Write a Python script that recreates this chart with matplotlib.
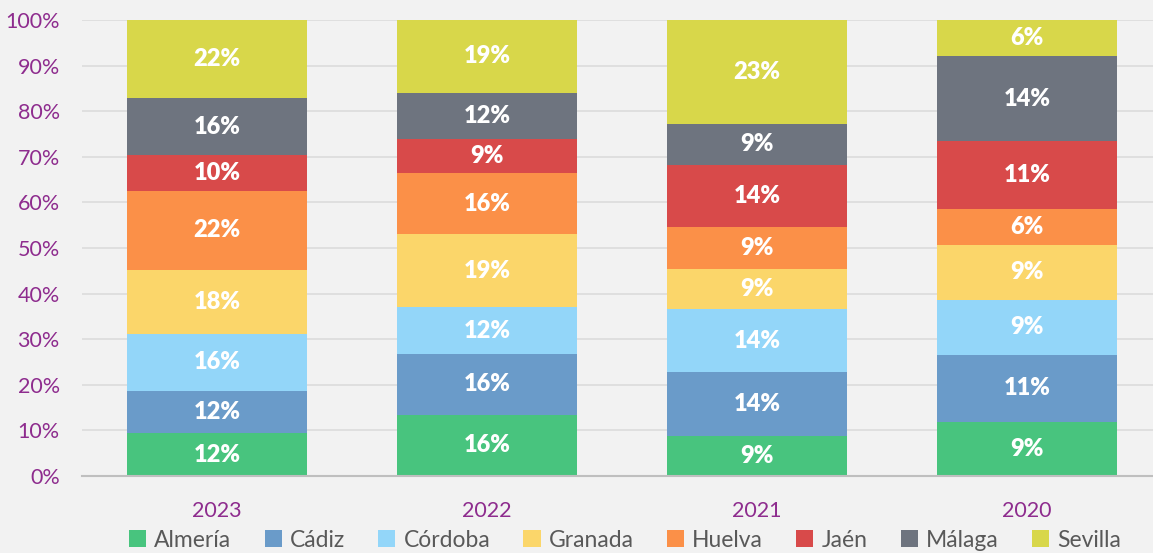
import numpy as np
import matplotlib
matplotlib.use("Agg")
import matplotlib.pyplot as plt
from matplotlib.ticker import PercentFormatter
from matplotlib.patches import Patch

years = ["2023", "2022", "2021", "2020"]
provinces = ["Almería", "Cádiz", "Córdoba", "Granada", "Huelva", "Jaén", "Málaga", "Sevilla"]

almeria = [9.4, 13.4, 8.8, 11.9]
cadiz = [9.2, 13.4, 13.9, 14.7]
cordoba = [12.6, 10.2, 13.9, 12.0]
granada = [14.0, 16.0, 8.9, 12.1]
huelva = [17.3, 13.4, 9.0, 7.9]
jaen = [7.8, 7.6, 13.8, 14.8]
malaga = [12.5, 10.0, 8.9, 18.6]
sevilla = [17.2, 16.0, 22.8, 8.0]

lab_almeria = [12, 16, 9, 9]
lab_cadiz = [12, 16, 14, 11]
lab_cordoba = [16, 12, 14, 9]
lab_granada = [18, 19, 9, 9]
lab_huelva = [22, 16, 9, 6]
lab_jaen = [10, 9, 14, 11]
lab_malaga = [16, 12, 9, 14]
lab_sevilla = [22, 19, 23, 6]

colors = ["#48C47E", "#6A9BC9", "#93D6F9", "#FBD66A", "#FB9048", "#D84A4A", "#6E747F", "#D8D74A"]

series = [almeria, cadiz, cordoba, granada, huelva, jaen, malaga, sevilla]
labels = [lab_almeria, lab_cadiz, lab_cordoba, lab_granada, lab_huelva, lab_jaen, lab_malaga, lab_sevilla]

plt.rcParams['font.family'] = ['Lato', 'DejaVu Sans']
bg = "#F2F2F2"
purple = "#8E2C8E"

fig = plt.figure(figsize=(11.53, 5.53), dpi=100, facecolor=bg)
ax = fig.add_axes([82 / 1153, 1 - 476 / 553, 1 - 82 / 1153, (476 - 20) / 553])
ax.set_facecolor(bg)

x = np.arange(len(years))
bottom = np.zeros(len(years))
for vals, labs, col in zip(series, labels, colors):
    vals = np.array(vals)
    ax.bar(x, vals, 0.667, bottom=bottom, color=col, zorder=3)
    for xi, b, v, l in zip(x, bottom, vals, labs):
        ax.text(xi, b + v / 2, f"{l}%", ha="center", va="center", color="white",
                fontsize=17, fontweight="heavy", zorder=4)
    bottom += vals

ax.set_xlim(-0.5, -0.5 + 1071 / 270)
ax.set_ylim(0, 100)
ax.set_yticks(np.arange(0, 101, 10))
ax.yaxis.set_major_formatter(PercentFormatter(decimals=0))
ax.set_xticks(x)
ax.set_xticklabels(years)
ax.tick_params(axis="both", length=0, labelsize=15.5, colors=purple)
ax.tick_params(axis="y", pad=16)
ax.tick_params(axis="x", pad=18)
ax.grid(axis="y", color="#DCDCDC", linewidth=1.2, zorder=0)
for s in ["top", "right", "left"]:
    ax.spines[s].set_visible(False)
ax.spines["bottom"].set_color("#BFBFBF")
ax.spines["bottom"].set_linewidth(1.5)
ax.spines["bottom"].set_zorder(5)

handles = [Patch(facecolor=c, label=p) for p, c in zip(provinces, colors)]
fig.legend(handles=handles, loc="lower center", bbox_to_anchor=(0.542, -0.033), ncol=8,
           frameon=False, fontsize=16.5, labelcolor="#595959", handlelength=0.75,
           handleheight=0.75, handletextpad=0.35, columnspacing=1.45)

fig.savefig("out.png", dpi=100, facecolor=bg)
